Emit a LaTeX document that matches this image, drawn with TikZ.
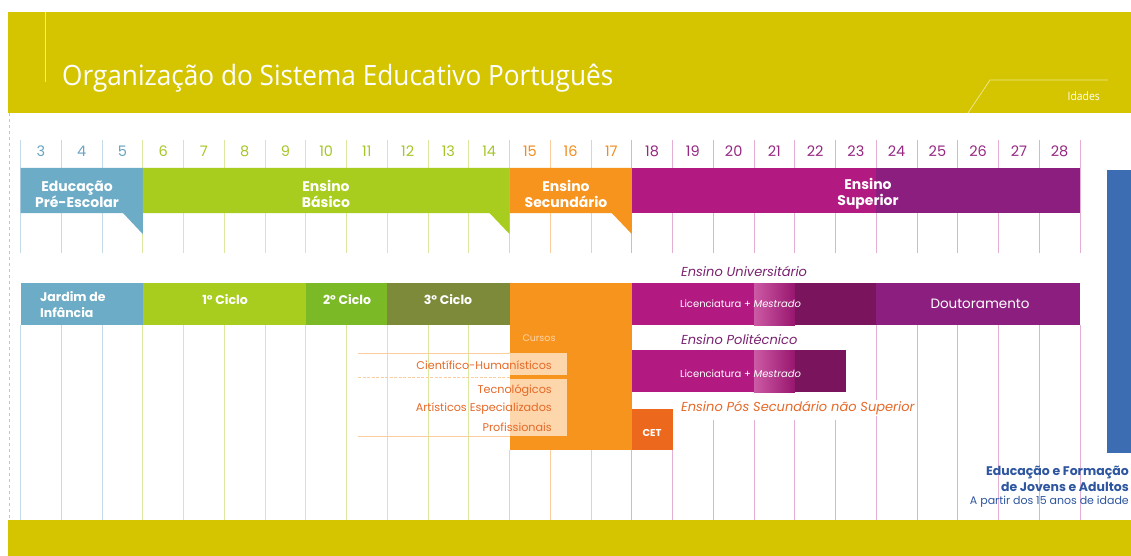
\documentclass[tikz,border=0pt]{standalone}
\usepackage{fontspec}
\setmainfont{Poppins}
\newfontfamily\titlefont{Open Sans}
\usetikzlibrary{calc}
\definecolor{banner}{RGB}{213,197,0}
\definecolor{cblue}{RGB}{108,172,198}
\definecolor{cgreen}{RGB}{168,205,30}
\definecolor{cgreenB}{RGB}{124,185,38}
\definecolor{colive}{RGB}{124,138,58}
\definecolor{corange}{RGB}{247,148,30}
\definecolor{cmag}{RGB}{178,26,130}
\definecolor{cmagL}{RGB}{205,90,165}
\definecolor{cmagD}{RGB}{122,20,92}
\definecolor{cpurple}{RGB}{140,30,128}
\definecolor{ccet}{RGB}{236,104,28}
\definecolor{cpeach}{RGB}{253,214,172}
\definecolor{crblue}{RGB}{60,108,178}
\definecolor{nblue}{RGB}{105,165,195}
\definecolor{ngreen}{RGB}{165,198,40}
\definecolor{norange}{RGB}{240,140,30}
\definecolor{npurple}{RGB}{150,40,130}
\definecolor{lblue}{RGB}{195,218,232}
\definecolor{lgreen}{RGB}{218,232,160}
\definecolor{lorange}{RGB}{250,205,160}
\definecolor{lpink}{RGB}{228,175,212}
\definecolor{tpurple}{RGB}{122,34,112}
\definecolor{torange}{RGB}{230,105,40}
\definecolor{tblue}{RGB}{45,85,160}
\tikzset{
  vline/.style={line width=0.9pt},
  bartxt/.style={text=white, align=center, inner sep=0pt, font=\fontsize{14}{16}\selectfont\bfseries},
  cyctxt/.style={text=white, inner sep=0pt, font=\fontsize{12.5}{14}\selectfont\bfseries},
  num/.style={inner sep=0pt, font=\fontsize{14.5}{14}\selectfont},
  smalltxt/.style={inner sep=0pt, font=\fontsize{10}{12}\selectfont},
  lbltxt/.style={inner sep=0pt, anchor=west, font=\fontsize{13}{14}\selectfont\itshape},
  peachtxt/.style={inner sep=0pt, anchor=east, text=torange, font=\fontsize{11.2}{12}\selectfont},
  hline/.style={line width=0.8pt, draw=lorange}
}
\begin{document}
\begin{tikzpicture}[x=1pt,y=-1pt]
\useasboundingbox (0,0) rectangle (1131,556);
\clip (0,0) rectangle (1131,556);
\fill[white] (0,0) rectangle (1131,556);
% banner
\fill[banner] (8,12) rectangle (1131,113);
\fill[banner] (8,520) rectangle (1131,556);
\draw[white!60!banner, line width=0.8pt] (45,12) -- (45,82);
\draw[gray!45, dashed, line width=0.8pt] (9,113) -- (9,520);
\node[anchor=base west, inner sep=0pt, text=white] (title) at (62,86)
  {\titlefont\fontsize{28}{28}\selectfont\scalebox{0.935}[1]{Organização do Sistema Educativo Português}};
\coordinate (d1) at (968,113);
\coordinate (d2) at (990,80);
\coordinate (d3) at (1108,80);
\draw[white!55!banner, line width=0.8pt] (d1) -- (d2) -- (d3);
\node[anchor=base east, inner sep=0pt, text=white] (idades) at (1100,101)
  {\titlefont\fontsize{11.5}{11}\selectfont\scalebox{0.9}[1]{Idades}};
% vertical lines, top section
\foreach \k in {0,1,2} \draw[vline,lblue] ({20.5+40.75*\k},140) -- ++(0,113);
\foreach \k in {3,...,11} \draw[vline,lgreen] ({20.5+40.75*\k},140) -- ++(0,113);
\foreach \k in {12,13,14} \draw[vline,lorange] ({20.5+40.75*\k},140) -- ++(0,113);
\foreach \k in {15,...,26} \draw[vline,lpink] ({20.5+40.75*\k},140) -- ++(0,113);
% vertical lines, lower section
\foreach \k in {0,1,2} \draw[vline,lblue] ({20.5+40.75*\k},325) -- (\k*40.75+20.5,520);
\foreach \k in {3,...,11} \draw[vline,lgreen] ({20.5+40.75*\k},325) -- (\k*40.75+20.5,520);
\foreach \k in {12,13,14} \draw[vline,lorange] ({20.5+40.75*\k},450) -- (\k*40.75+20.5,520);
\foreach \k in {15,16} \draw[vline,lpink] ({20.5+40.75*\k},450) -- (\k*40.75+20.5,520);
\foreach \k in {17,...,20} \draw[vline,lpink] ({20.5+40.75*\k},420) -- (\k*40.75+20.5,520);
\foreach \k in {21,...,26} \draw[vline,lpink] ({20.5+40.75*\k},325) -- (\k*40.75+20.5,520);
% numbers
\foreach \k in {0,1,2} {\pgfmathtruncatemacro\age{\k+3}
  \node[num,text=nblue] (n\age) at ({20.5+40.75*(\k+0.5)},151) {\age};}
\foreach \k in {3,...,11} {\pgfmathtruncatemacro\age{\k+3}
  \node[num,text=ngreen] (n\age) at ({20.5+40.75*(\k+0.5)},151) {\age};}
\foreach \k in {12,13,14} {\pgfmathtruncatemacro\age{\k+3}
  \node[num,text=norange] (n\age) at ({20.5+40.75*(\k+0.5)},151) {\age};}
\foreach \k in {15,...,25} {\pgfmathtruncatemacro\age{\k+3}
  \node[num,text=npurple] (n\age) at ({20.5+40.75*(\k+0.5)},151) {\age};}
% top bars
\fill[cblue] (20.5,168) -- (142.75,168) -- (142.75,234) -- (123,213) -- (20.5,213) -- cycle;
\fill[cgreen] (142.75,168) -- (509.5,168) -- (509.5,234) -- (489.5,213) -- (142.75,213) -- cycle;
\fill[corange] (509.5,168) -- (631.75,168) -- (631.75,234) -- (611.75,213) -- (509.5,213) -- cycle;
\fill[cmag] (631.75,168) rectangle (876.25,213);
\fill[cpurple] (876.25,168) rectangle (1080,213);
\node[bartxt] (pre) at (77,194) {Educação\\Pré-Escolar};
\node[bartxt] (bas) at (326,194) {Ensino\\Básico};
\node[bartxt] (sec) at (566,194) {Ensino\\Secundário};
\node[bartxt] (sup) at (868,194) {Ensino\\Superior};
% blue side bar
\fill[crblue] (1107,170) rectangle (1131,453);
% second row
\fill[cblue] (20.5,283) rectangle (142.75,325);
\fill[cgreen] (142.75,283) rectangle (305.75,325);
\fill[cgreenB] (305.75,283) rectangle (387.25,325);
\fill[colive] (387.25,283) rectangle (509.5,325);
\fill[corange] (509.5,283) rectangle (631.75,450);
\node[bartxt, align=left, anchor=west, font=\fontsize{12.5}{16}\selectfont\bfseries] (jard) at (40,305) {Jardim de\\Infância};
\node[cyctxt] (c1) at (225,300) {1º Ciclo};
\node[cyctxt] (c2) at (347,300) {2º Ciclo};
\node[cyctxt] (c3) at (448,300) {3º Ciclo};
% cursos
\node[smalltxt, text=cpeach, font=\fontsize{9.5}{10}\selectfont] (cursos) at (539,338) {Cursos};
\fill[cpeach] (509.5,353) rectangle (567,375);
\fill[cpeach] (509.5,379) rectangle (567,436);
\coordinate (h1) at (358,353);
\coordinate (h2) at (358,377);
\coordinate (h3) at (358,436);
\draw[hline] (h1) -- (509.5,353);
\draw[hline, dashed, dash pattern=on 3pt off 1.5pt] (h2) -- (509.5,377);
\draw[hline] (h3) -- (509.5,436);
\node[peachtxt] (ch) at (552,365) {Científico-Humanísticos};
\node[peachtxt] (tec) at (552,391) {Tecnológicos};
\node[peachtxt] (art) at (552,409) {Artísticos Especializados};
\node[peachtxt] (prof) at (552,427) {Profissionais};
% superior, universitario
\node[lbltxt, text=tpurple] (univ) at (681,271) {Ensino Universitário};
\fill[cmag] (631.75,283) rectangle (754,325);
\shade[left color=cmagL, right color=cmag!85!black] (754,283) rectangle (794.75,325);
\fill[cmagD] (794.75,283) rectangle (876.25,325);
\fill[cpurple] (876.25,283) rectangle (1080,325);
\node[smalltxt, text=white, anchor=west] (lm1) at (680,304) {Licenciatura + \textit{Mestrado}};
\node[smalltxt, text=white, font=\fontsize{13.5}{14}\selectfont] (dout) at (980,304) {Doutoramento};
% politecnico
\node[lbltxt, text=tpurple] (poli) at (681,339) {Ensino Politécnico};
\fill[cmag] (631.75,350) rectangle (754,392);
\shade[left color=cmagL, right color=cmag!85!black] (754,350) rectangle (794.75,392);
\fill[cmagD] (794.75,350) rectangle (846,392);
\node[smalltxt, text=white, anchor=west] (lm2) at (680,374) {Licenciatura + \textit{Mestrado}};
% pos secundario
\node[lbltxt, text=torange, fill=white, inner sep=1pt] (pos) at (680,408) {Ensino Pós Secundário não Superior};
\fill[ccet] (631.75,409) rectangle (672.5,450);
\node[smalltxt, text=white, font=\fontsize{10}{12}\selectfont\bfseries] (cet) at (652,433) {CET};
% bottom right text
\node[inner sep=0pt, anchor=east, text=tblue, font=\fontsize{12.5}{14}\selectfont\bfseries] (efa1) at (1129,472) {Educação e Formação};
\node[inner sep=0pt, anchor=east, text=tblue, font=\fontsize{12.5}{14}\selectfont\bfseries] (efa2) at (1129,487) {de Jovens e Adultos};
\node[inner sep=0pt, anchor=east, text=tblue, font=\fontsize{11}{12}\selectfont] (efa3) at (1129,502) {A partir dos 15 anos de idade};
\end{tikzpicture}
\end{document}
